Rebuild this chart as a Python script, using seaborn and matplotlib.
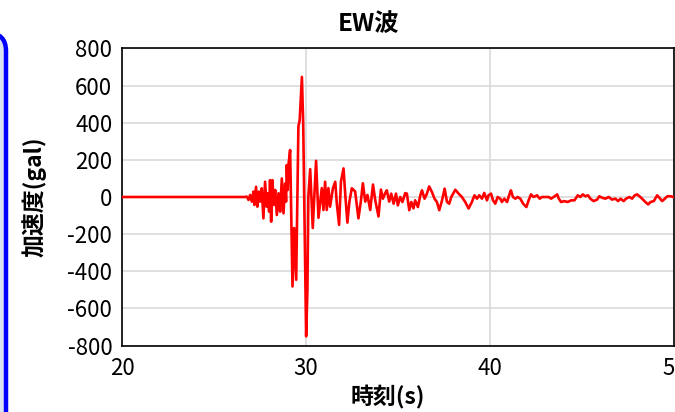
import pandas as pd
import matplotlib.pyplot as plt
import seaborn as sns
from matplotlib.patches import FancyBboxPatch

# EW波 加速度記録
time_s = [
    20.00, 26.60, 26.68, 26.78, 26.87, 26.96, 27.05, 27.14, 27.19, 27.28,
    27.35, 27.43, 27.50, 27.59, 27.68, 27.77, 27.86, 27.92, 27.99, 28.04,
    28.10, 28.17, 28.24, 28.32, 28.41, 28.50, 28.59, 28.68, 28.77, 28.86,
    28.91, 28.95, 29.00, 29.05, 29.13, 29.26, 29.35, 29.46, 29.58, 29.65,
    29.77, 29.84, 30.00, 30.07, 30.12, 30.22, 30.36, 30.54, 30.67, 30.85,
    30.94, 31.03, 31.12, 31.21, 31.30, 31.45, 31.58, 31.67, 31.79, 31.89,
    32.03, 32.12, 32.24, 32.35, 32.48, 32.66, 32.84, 32.97, 33.08, 33.21,
    33.33, 33.48, 33.63, 33.75, 33.93, 34.06, 34.17, 34.29, 34.38, 34.51,
    34.62, 34.75, 34.88, 34.98, 35.11, 35.23, 35.38, 35.47, 35.60, 35.71,
    35.83, 35.92, 36.07, 36.20, 36.29, 36.43, 36.56, 36.68, 36.83, 36.97,
    37.10, 37.23, 37.38, 37.52, 37.65, 37.77, 37.88, 38.10, 38.28, 38.46,
    38.64, 38.82, 39.00, 39.14, 39.28, 39.40, 39.55, 39.67, 39.82, 39.90,
    40.04, 40.15, 40.27, 40.40, 40.54, 40.63, 40.76, 40.91, 41.05, 41.12,
    41.23, 41.36, 41.48, 41.63, 41.78, 41.96, 42.08, 42.21, 42.35, 42.54,
    42.68, 42.81, 42.99, 43.17, 43.30, 43.44, 43.63, 43.72, 43.84, 44.02,
    44.20, 44.39, 44.57, 44.75, 44.89, 45.02, 45.16, 45.31, 45.43, 45.61,
    45.80, 45.92, 46.07, 46.25, 46.43, 46.61, 46.79, 46.94, 47.07, 47.24,
    47.37, 47.55, 47.70, 47.84, 47.97, 48.10, 48.24, 48.42, 48.57, 48.70,
    48.88, 49.06, 49.18, 49.33, 49.48, 49.61, 49.78, 49.96, 50.00,
]
accel_gal = [
    0, 0, 0, 2, -16, 11, -25, 29, -43, 55,
    -52, 29, -25, 47, -115, 82, -52, 20, -79, 91,
    -133, 91, -43, 38, -97, 20, -79, 100, -88, 73,
    -25, 172, 38, 181, 253, -482, -167, -446, 380, 414,
    647, 400, -751, -500, 0, 150, -167, 195, -112, 48,
    -70, 82, -70, 48, -52, 45, 82, -40, -150, 82,
    154, 20, -138, -25, 47, 30, -115, -25, 74, -25,
    11, -70, 67, -16, -105, 40, -9, 20, 36, -25,
    18, -36, 18, -45, 0, -27, 21, 18, -71, -27,
    -61, -18, -54, 9, 36, -9, 18, 57, 27, -9,
    -27, -71, -18, 45, -27, -36, 0, 39, 18, 0,
    -27, -62, -27, 9, -9, 9, -9, 22, -18, 9,
    18, -18, -36, 0, -9, -27, -9, -27, 18, 36,
    0, -9, 0, -9, -36, -54, -18, 14, 0, 9,
    -9, 0, 0, 0, -9, 0, 14, -9, -27, -22,
    -27, -18, -18, 9, 0, 14, 4, 9, -9, -22,
    -14, 4, -4, -9, 0, -14, -9, -22, -9, -22,
    -9, 0, -9, 9, 14, 4, -9, -27, -40, -27,
    -22, 9, -4, -22, -9, 4, 4, 0, 0,
]
y_ticks = [-800, -600, -400, -200, 0, 200, 400, 600, 800]
x_ticks = [20, 30, 40, 50]

df = pd.DataFrame({'時刻(s)': time_s, '加速度(gal)': accel_gal})

sns.set_theme(style='white')
plt.rcParams['font.family'] = ['Noto Sans CJK JP', 'DejaVu Sans']
plt.rcParams['axes.unicode_minus'] = False
plt.rcParams['text.color'] = 'black'
plt.rcParams['axes.labelcolor'] = 'black'

fig = plt.figure(figsize=(6.75, 4.12), dpi=100)
ax = fig.add_axes([0.1807, 0.1614, 0.8185, 0.7209])

# 左側の青い枠 (元画面の一部)
frame = FancyBboxPatch((-60, -200), 66, 579, boxstyle='round,pad=0,rounding_size=18',
                       transform=None, facecolor='#dde2f0', edgecolor='#0000ff',
                       linewidth=3.2, zorder=0)
fig.patches.append(frame)

sns.lineplot(data=df, x='時刻(s)', y='加速度(gal)', color='#ff0000',
             linewidth=1.9, estimator=None, ax=ax, zorder=3)

ax.set_xlim(20, 50)
ax.set_ylim(-800, 800)
ax.set_xticks(x_ticks)
ax.set_yticks(y_ticks)
ax.grid(True, color='#d9d9d9', linewidth=1.2)
ax.tick_params(axis='both', length=0, labelsize=16, colors='black')
ax.tick_params(axis='x', pad=8)
ax.tick_params(axis='y', pad=7)
for s in ax.spines.values():
    s.set_color('black')
    s.set_linewidth(1.2)

ax.set_xlabel('時刻(s)', fontsize=16.5, fontweight='bold', color='black')
ax.set_ylabel('加速度(gal)', fontsize=16.5, fontweight='bold', color='black')
ax.xaxis.set_label_coords((388 - 122) / 552.5, (346 - 386) / 297)
ax.yaxis.set_label_coords((47 - 122) / 552.5, 0.5)
fig.text(368 / 675, 1 - 24 / 412, 'EW波', ha='center', va='center',
         fontsize=17.5, fontweight='bold', color='black')

fig.savefig('out.png', dpi=100)
